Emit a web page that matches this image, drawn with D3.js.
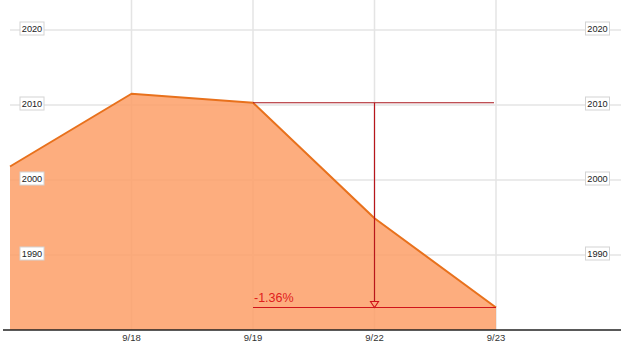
<!DOCTYPE html>
<html><head><meta charset="utf-8">
<script src="https://cdn.jsdelivr.net/npm/d3@7"></script>
<style>html,body{margin:0;padding:0;background:#fff;}svg{display:block;}</style>
</head><body>
<svg id="c" width="621" height="346"></svg>
<script>
const categories = ["9/17","9/18","9/19","9/22","9/23"];
const values = [2001.8, 2011.5, 2010.3, 1994.9, 1983.0];
const tickLabels = ["9/18","9/19","9/22","9/23"];
const yTicks = [1990, 2000, 2010, 2020];
const refIndex = 2, endIndex = 4;

const W = 621, H = 346;
const svg = d3.select("#c");
const x = d3.scalePoint().domain(categories).range([10, 496]);
const y = d3.scaleLinear().domain([1980, 2020]).range([330, 30]);
const font = "Arial, 'Liberation Sans', sans-serif";

// gridlines
const g = svg.append("g");
g.selectAll("line.h").data(yTicks).join("line")
  .attr("x1", 10).attr("x2", W).attr("y1", d => y(d)).attr("y2", d => y(d))
  .attr("stroke", "#e4e4e4").attr("stroke-width", 1.5);
g.selectAll("line.v").data(tickLabels).join("line")
  .attr("x1", d => x(d)).attr("x2", d => x(d)).attr("y1", 0).attr("y2", y(1980))
  .attr("stroke", "#e4e4e4").attr("stroke-width", 1.5);

const data = categories.map((c, i) => ({c, v: values[i]}));
svg.append("path").datum(data)
  .attr("d", d3.area().x(d => x(d.c)).y0(y(1980)).y1(d => y(d.v)))
  .attr("fill", "#fd9f67").attr("fill-opacity", 0.85);
svg.append("path").datum(data)
  .attr("d", d3.line().x(d => x(d.c)).y(d => y(d.v)))
  .attr("fill", "none").attr("stroke", "#e8711c").attr("stroke-width", 2).attr("stroke-linejoin", "round");

// annotation
const x0 = x(categories[refIndex]), x1 = x(categories[endIndex]);
const yA = y(values[refIndex]), yB = y(values[endIndex]);
const xm = (x0 + x1) / 2;
const pct = (values[endIndex] / values[refIndex] - 1) * 100;
svg.append("line").attr("x1", x0).attr("x2", x1 - 2).attr("y1", yA).attr("y2", yA)
  .attr("stroke", "#a8161c").attr("stroke-width", 1.2);
svg.append("line").attr("x1", x0).attr("x2", x1).attr("y1", yB).attr("y2", yB)
  .attr("stroke", "#d0141a").attr("stroke-width", 1.2);
svg.append("line").attr("x1", xm).attr("x2", xm).attr("y1", yA).attr("y2", yB - 6)
  .attr("stroke", "#b8161c").attr("stroke-width", 1.2);
svg.append("path")
  .attr("d", `M${xm-4},${yB-6}L${xm+4},${yB-6}L${xm},${yB}Z`)
  .attr("fill", "none").attr("stroke", "#d0141a").attr("stroke-width", 1.1);
svg.append("text").attr("x", x0 + 1).attr("y", yB - 6)
  .attr("font-family", font).attr("font-size", 12.5).attr("fill", "#e0201c")
  .text(pct.toFixed(2) + "%");

// y labels (both sides)
[32, 597.5].forEach(cx => {
  const lg = svg.append("g");
  yTicks.forEach(t => {
    const cy = y(t) - 1.5;
    lg.append("rect").attr("x", cx - 12).attr("y", cy - 6.5).attr("width", 24).attr("height", 13)
      .attr("fill", "#fff").attr("stroke", "#d4d4d4").attr("stroke-width", 1);
    lg.append("text").attr("x", cx).attr("y", cy + 3.3).attr("text-anchor", "middle")
      .attr("font-family", font).attr("font-size", 9.2).attr("fill", "#222").text(t);
  });
});

// x axis
const xa = svg.append("g").attr("transform", `translate(0,${y(1980)})`);
xa.append("line").attr("x1", 3).attr("x2", W).attr("stroke", "#222").attr("stroke-width", 1.3);
xa.selectAll("text").data(tickLabels).join("text")
  .attr("x", d => x(d)).attr("y", 11).attr("text-anchor", "middle")
  .attr("font-family", font).attr("font-size", 9.5).attr("fill", "#333").text(d => d);
</script>
</body></html>
